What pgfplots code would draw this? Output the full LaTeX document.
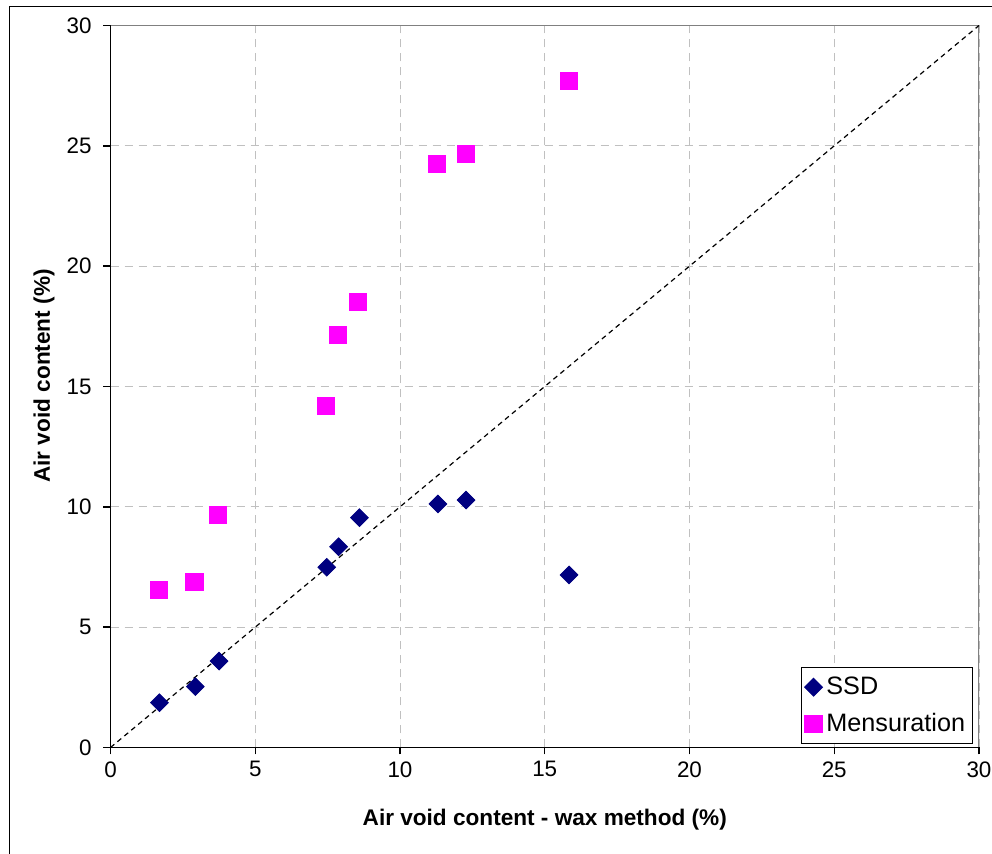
\documentclass[border=0pt]{standalone}
\usepackage{pgfplots}
\pgfplotsset{compat=1.18}
\usepackage{fontspec}
\setmainfont{Liberation Sans}

\definecolor{ssdblue}{RGB}{0,0,128}
\definecolor{mensmag}{RGB}{255,0,255}
\definecolor{gridgray}{RGB}{192,192,192}
\definecolor{framegray}{RGB}{128,128,128}

\begin{document}
\begin{tikzpicture}[x=1pt,y=1pt]
\begin{axis}[
    at={(55.25pt,53.25pt)},
    anchor=south west,
    scale only axis,
    width=434.25pt,
    height=361pt,
    xmin=0, xmax=30,
    ymin=0, ymax=30,
    xtick={0,5,...,30},
    ytick={0,5,...,30},
    axis lines=left,
    axis line style={-, black, line width=0.7pt},
    tick style={black, line width=0.7pt},
    tick align=outside,
    major tick length=3.5pt,
    grid=major,
    major grid style={gridgray, line width=0.5pt, dash pattern=on 4pt off 3pt},
    tick label style={font=\fontsize{11.2}{13}\selectfont},
    yticklabel style={xshift=-2.4pt},
    /pgf/number format/assume math mode=true,
    xlabel={Air void content - wax method (\%)},
    ylabel={Air void content (\%)},
    label style={font=\bfseries\fontsize{11.3}{13}\selectfont},
    xlabel style={at={(axis description cs:0.5,0)}, anchor=center, yshift=-36.25pt},
    ylabel style={at={(axis description cs:-0.0766,0.5145)}, anchor=center},
    legend style={
        at={(axis description cs:1,0)},
        anchor=south east,
        xshift=-3.2pt, yshift=1.6pt,
        draw=black, line width=0.5pt,
        font=\fontsize{12.6}{14}\selectfont,
        inner xsep=1.5pt, inner ysep=2.5pt,
        row sep=4pt,
        /tikz/every even column/.append style={column sep=1pt}
    },
    legend cell align=left
]

% --- top and right frame (grey) ---
\draw[framegray, line width=0.7pt] (rel axis cs:0,1) -- (rel axis cs:1,1) -- (rel axis cs:1,0);

% --- line of equality ---
\addplot[black, line width=0.6pt, dash pattern=on 2.5pt off 2pt, forget plot]
    coordinates {(0,0) (30,30)};

% --- SSD ---
\addplot[
    only marks,
    mark=square*,
    mark size=3.13pt,
    mark options={rotate=45, draw=ssdblue, fill=ssdblue}
] coordinates {
    (1.69,1.86)
    (2.93,2.53)
    (3.75,3.59)
    (7.47,7.49)
    (7.88,8.34)
    (8.60,9.55)
    (11.31,10.12)
    (12.28,10.28)
    (15.84,7.17)
};
\addlegendentry{SSD}

% --- Mensuration ---
\addplot[
    only marks,
    mark=square*,
    mark size=4.3pt,
    mark options={draw=mensmag, fill=mensmag}
] coordinates {
    (1.66,6.54)
    (2.90,6.89)
    (3.72,9.65)
    (7.44,14.19)
    (7.86,17.14)
    (8.55,18.51)
    (11.28,24.24)
    (12.28,24.66)
    (15.84,27.69)
};
\addlegendentry{Mensuration}

\end{axis}

% --- chart area border ---
\draw[black, line width=0.9pt] (4.75,-20) -- (4.75,423.75) -- (520,423.75);

\pgfresetboundingbox
\useasboundingbox (0,0) rectangle (496,427);
\end{tikzpicture}
\end{document}
